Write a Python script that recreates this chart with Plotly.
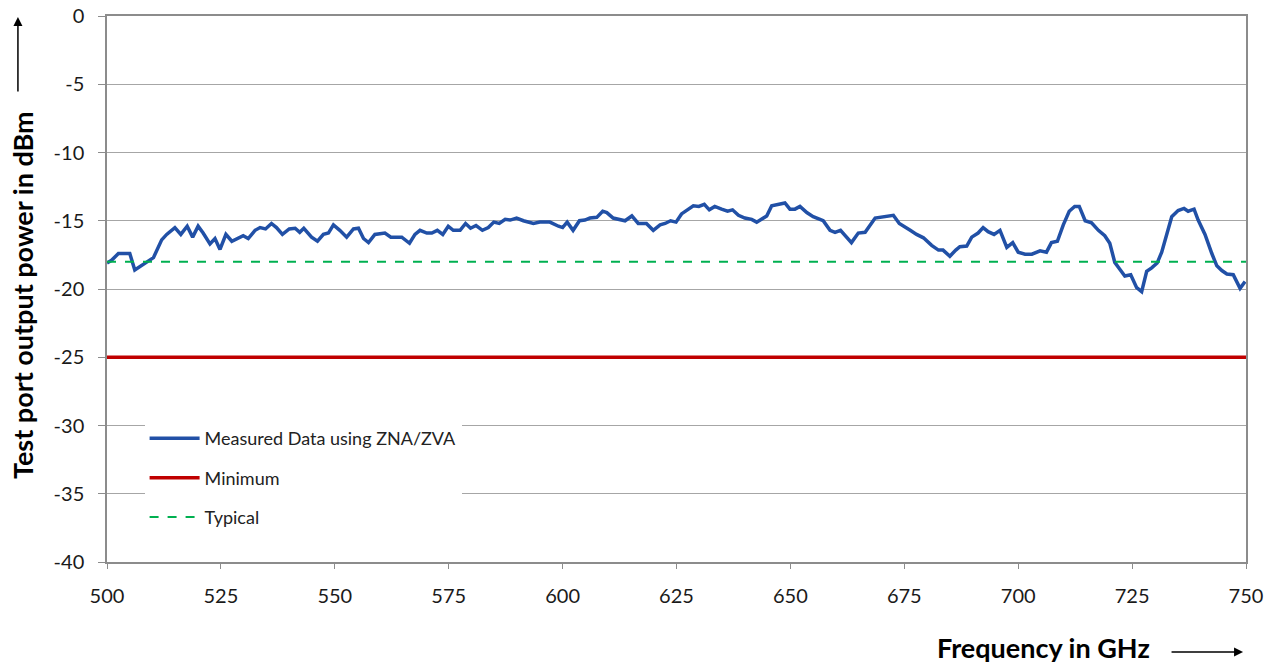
import plotly.graph_objects as go

# Measured test port output power
freq = [500, 501, 502.5, 505, 506.1, 508, 509.4, 510.2, 512, 513.1, 514.9, 516.2, 517.6, 518.8,
        520, 521.1, 522.6, 523.7, 524.8, 526.1, 527.4, 528.8, 529.9, 531, 532.5, 533.6, 534.8,
        536.1, 537.2, 538.5, 540, 541.3, 542.3, 543.2, 544.9, 546.2, 547.5, 548.6, 549.7, 551.1,
        552.6, 554.1, 555.2, 556.3, 557.4, 558.8, 560.3, 561, 562.3, 564.7, 566.4, 567.6, 568.7,
        570.2, 571.3, 572.5, 573.7, 574.9, 576, 577.5, 578.7, 579.8, 581, 582.4, 583.7, 584.9,
        586.1, 587.4, 588.5, 589.9, 591.4, 593.6, 595, 597.2, 599.1, 600, 601, 602.3, 603.7,
        604.9, 606, 607.5, 608.8, 609.7, 611.1, 612.2, 613.7, 615.2, 616.6, 618.4, 619.9, 621.4,
        622.5, 623.7, 624.9, 626.1, 627.4, 628.7, 629.9, 631.1, 632.2, 633.4, 634.9, 636.2,
        637.3, 638.6, 640, 641.5, 642.6, 643.7, 644.8, 645.9, 647, 648.8, 649.9, 651, 652.1,
        653.6, 655, 657.2, 658.7, 659.8, 661, 662.3, 663.4, 664.9, 666.4, 668.6, 670.4, 672.6,
        673.9, 675.2, 676.3, 677.7, 679.2, 681, 682.5, 683.5, 685, 686.3, 687.2, 688.7, 689.8,
        691.2, 692.3, 693.4, 694.7, 696, 697.5, 698.8, 700, 701.5, 703, 704.8, 706.2, 707.3,
        708.6, 709.9, 711.2, 712.4, 713.4, 714.7, 716.1, 717.6, 719, 720.1, 721.2, 722.3,
        723.4, 724.7, 726, 727.1, 728.2, 729.3, 730.5, 731.5, 732.6, 733.7, 735.1, 736.4,
        737.3, 738.6, 739.5, 741, 742.5, 743.6, 744.7, 745.8, 747.2, 748.7, 749.8]
power = [-18.1, -17.9, -17.4, -17.4, -18.6, -18.2, -17.9, -17.7, -16.4, -16.0, -15.5, -16.0, -15.4, -16.2,
         -15.4, -15.9, -16.7, -16.3, -17.1, -16.0, -16.5, -16.3, -16.1, -16.3, -15.7, -15.5, -15.6,
         -15.2, -15.5, -16.0, -15.6, -15.55, -15.85, -15.55, -16.2, -16.5, -16.0, -15.9, -15.3, -15.7,
         -16.2, -15.6, -15.55, -16.3, -16.6, -16.0, -15.9, -15.9, -16.2, -16.2, -16.65, -16.0, -15.7,
         -15.9, -15.9, -15.7, -16.0, -15.4, -15.7, -15.7, -15.2, -15.55, -15.35, -15.7, -15.5, -15.1,
         -15.2, -14.9, -14.95, -14.8, -15.0, -15.2, -15.1, -15.1, -15.4, -15.5, -15.1, -15.7, -15.0,
         -14.95, -14.8, -14.75, -14.3, -14.4, -14.8, -14.9, -15.0, -14.65, -15.2, -15.2, -15.7, -15.3,
         -15.2, -15.0, -15.1, -14.5, -14.2, -13.9, -13.95, -13.8, -14.2, -13.95, -14.15, -14.3,
         -14.2, -14.6, -14.8, -14.9, -15.1, -14.9, -14.65, -13.9, -13.8, -13.7, -14.15, -14.15, -13.95,
         -14.4, -14.7, -15.0, -15.7, -15.85, -15.7, -16.2, -16.6, -15.9, -15.85, -14.8, -14.7, -14.6,
         -15.2, -15.5, -15.7, -16.0, -16.25, -16.8, -17.15, -17.15, -17.6, -17.15, -16.9, -16.85, -16.2,
         -15.9, -15.5, -15.8, -16.0, -15.7, -16.95, -16.6, -17.3, -17.45, -17.45, -17.2, -17.3, -16.6,
         -16.5, -15.3, -14.3, -13.95, -13.95, -15.0, -15.15, -15.7, -16.1, -16.65, -18.05, -18.55,
         -19.05, -18.95, -19.9, -20.2, -18.7, -18.45, -18.1, -17.3, -15.9, -14.7, -14.25, -14.1,
         -14.3, -14.15, -14.95, -16.0, -17.4, -18.3, -18.65, -18.9, -18.95, -19.95, -19.45]

limit_freq = [500, 750]
minimum = [-25, -25]
typical = [-18, -18]

x_ticks = [500, 525, 550, 575, 600, 625, 650, 675, 700, 725, 750]
y_ticks = [0, -5, -10, -15, -20, -25, -30, -35, -40]
y_labels = ["0", "-5", "-10", "-15", "-20", "-25", "-30", "-35", "-40"]

FONT = "Lato"

fig = go.Figure()
fig.add_trace(go.Scatter(x=freq, y=power, mode="lines", name="Measured Data using ZNA/ZVA",
                         line=dict(color="#2150A6", width=3.5), legendgroup="a"))
fig.add_trace(go.Scatter(x=limit_freq, y=minimum, mode="lines", name="Minimum",
                         line=dict(color="#C00000", width=3.5), legendgroup="b"))
fig.add_trace(go.Scatter(x=limit_freq, y=typical, mode="lines", name="Typical",
                         line=dict(color="#00B050", width=2, dash="dash"), legendgroup="c"))

fig.update_layout(
    width=1277, height=665,
    margin=dict(l=107, r=31, t=16, b=103),
    paper_bgcolor="white", plot_bgcolor="white",
    font=dict(family=FONT, size=20, color="#1a1a1a"),
    showlegend=True,
    legend=dict(x=0.033, y=0.26, xanchor="left", yanchor="top",
                bgcolor="white", borderwidth=0, tracegroupgap=13, itemwidth=50,
                font=dict(size=18, color="#222222")),
)
fig.update_xaxes(range=[500, 750], tickvals=x_ticks, automargin=False,
                 showgrid=False, showline=True, linecolor="#8c8c8c", linewidth=1.5,
                 mirror=True, ticks="outside", ticklen=5, tickcolor="#8c8c8c",
                 ticklabelstandoff=10, zeroline=False)
fig.update_yaxes(range=[-40, 0], tickvals=y_ticks, ticktext=y_labels, automargin=False,
                 showgrid=True, gridcolor="#a6a6a6", gridwidth=1,
                 showline=True, linecolor="#8c8c8c", linewidth=1.5, mirror=True,
                 ticks="outside", ticklen=7, tickcolor="#8c8c8c",
                 ticklabelstandoff=10, zeroline=False)

# axis titles with arrows
fig.add_annotation(text="<b>Test port output power in dBm</b>", textangle=-90,
                   xref="paper", yref="paper", x=-0.0746, y=0.489,
                   xanchor="center", yanchor="middle", showarrow=False,
                   font=dict(size=27, color="black"))
fig.add_annotation(text="<b>Frequency in GHz</b>", xref="paper", yref="paper",
                   x=0.8218, y=-0.1575, xanchor="center", yanchor="middle",
                   showarrow=False, font=dict(size=27, color="black"))
fig.add_annotation(text="", xref="paper", yref="paper", x=-0.0782, y=0.998,
                   ax=0, ay=76, showarrow=True, arrowhead=2, arrowsize=1.2,
                   arrowwidth=1.5, arrowcolor="black")
fig.add_annotation(text="", xref="paper", yref="paper", x=0.9974, y=-0.1648,
                   ax=-73, ay=0, showarrow=True, arrowhead=2, arrowsize=1.2,
                   arrowwidth=1.5, arrowcolor="black")

# drop the default page margin so the figure sits at the window's corner
fig.write_html("out.html", config={"displayModeBar": False},
               post_script="document.body.style.margin='0px';")
